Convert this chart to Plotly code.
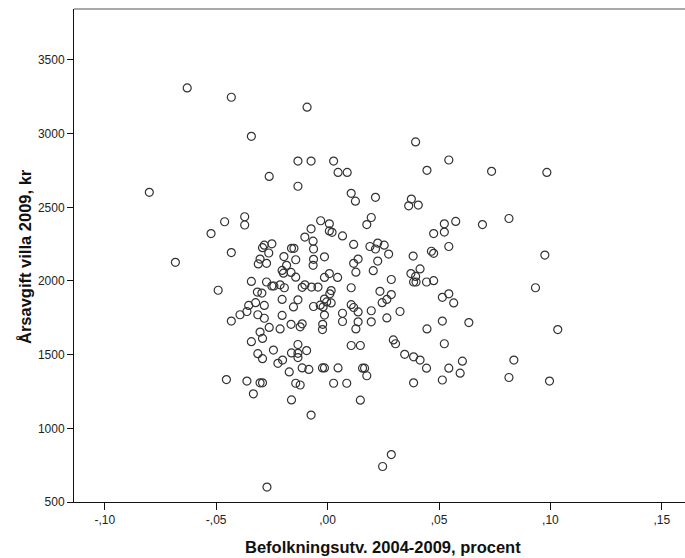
import plotly.graph_objects as go

# Befolkningsutveckling 2004-2009 (andel) per kommun
befolkningsutv = [
    -0.0630, -0.0432, -0.0092, -0.0342, 0.0395, 0.0544, -0.0133, -0.0074, 0.0027, 0.0047,
    0.0088, 0.0446, 0.0736, 0.0984, -0.0262, -0.0133, -0.0800, 0.0106, 0.0125, 0.0215,
    0.0376, 0.0364, 0.0407, -0.0372, -0.0372, -0.0462, -0.0523, -0.0031, -0.0074, 0.0008,
    0.0008, 0.0020, 0.0176, 0.0196, 0.0067, -0.0102, 0.0524, 0.0575, 0.0524, 0.0476,
    0.0695, 0.0814, 0.0544, 0.0466, 0.0476, -0.0284, -0.0292, -0.0250, -0.0264, -0.0432,
    -0.0162, -0.0151, -0.0065, -0.0063, 0.0117, 0.0225, 0.0254, 0.0190, 0.0215, 0.0274,
    0.0384, 0.0975, -0.0683, -0.0303, -0.0311, -0.0274, -0.0196, -0.0184, -0.0143, -0.0063,
    -0.0065, -0.0014, 0.0137, 0.0117, 0.0225, 0.0127, 0.0205, 0.0415, -0.0204, -0.0198,
    -0.0164, -0.0143, 0.0008, -0.0014, 0.0045, 0.0374, 0.0395, 0.0386, 0.0397, 0.0444,
    0.0476, 0.0286, -0.0342, -0.0274, -0.0250, -0.0241, -0.0213, -0.0194, -0.0114, -0.0102,
    -0.0072, -0.0043, -0.0491, -0.0315, -0.0295, 0.0010, 0.0016, 0.0106, 0.0235, 0.0286,
    0.0933, 0.0544, 0.0515, -0.0014, -0.0004, 0.0016, -0.0033, -0.0063, -0.0020, -0.0133,
    -0.0204, -0.0323, -0.0354, -0.0284, -0.0153, 0.0106, 0.0117, 0.0245, 0.0266, 0.0566,
    0.0137, 0.0196, 0.0325, 0.0067, -0.0362, -0.0393, -0.0313, -0.0204, -0.0014, -0.0284,
    -0.0432, 0.0067, 0.0137, 0.0196, 0.0266, 0.0515, 0.0634, -0.0164, -0.0114, -0.0123,
    -0.0022, -0.0262, -0.0213, -0.0023, 0.0127, 0.0446, 0.1033, -0.0303, -0.0292, -0.0342,
    0.0295, 0.0305, 0.0524, -0.0133, 0.0106, 0.0147, -0.0243, -0.0313, -0.0162, -0.0133,
    -0.0094, -0.0133, -0.0292, -0.0223, -0.0202, 0.0346, 0.0386, 0.0415, 0.0605, 0.0836,
    -0.0172, -0.0114, -0.0084, -0.0023, -0.0014, 0.0047, 0.0157, 0.0166, 0.0176, 0.0444,
    0.0544, 0.0595, -0.0454, -0.0362, -0.0303, -0.0292, -0.0143, -0.0123, 0.0027, 0.0086,
    0.0386, 0.0515, 0.0814, 0.0996, -0.0333, -0.0162, 0.0147, -0.0074, 0.0286, 0.0247,
    -0.0272,
]

# Årsavgift villa 2009, kr
arsavgift = [
    3310, 3247, 3180, 2982, 2944, 2821, 2814, 2814, 2814, 2737,
    2737, 2751, 2744, 2737, 2710, 2643, 2602, 2595, 2542, 2568,
    2556, 2510, 2515, 2436, 2380, 2402, 2322, 2409, 2354, 2388,
    2340, 2330, 2383, 2431, 2306, 2298, 2388, 2404, 2332, 2322,
    2383, 2424, 2234, 2202, 2188, 2243, 2226, 2252, 2190, 2193,
    2222, 2222, 2270, 2217, 2248, 2257, 2243, 2234, 2217, 2183,
    2169, 2176, 2127, 2149, 2116, 2120, 2166, 2106, 2144, 2147,
    2106, 2164, 2149, 2120, 2135, 2060, 2070, 2082, 2072, 2053,
    2058, 2026, 2050, 2024, 2024, 2050, 2031, 1993, 1993, 1993,
    2002, 2010, 1997, 1993, 1966, 1966, 1974, 1954, 1957, 1974,
    1959, 1959, 1937, 1925, 1918, 1913, 1935, 1954, 1930, 1908,
    1954, 1913, 1889, 1877, 1858, 1851, 1836, 1827, 1824, 1872,
    1875, 1853, 1834, 1834, 1824, 1839, 1820, 1853, 1875, 1851,
    1790, 1798, 1793, 1781, 1793, 1771, 1771, 1766, 1769, 1747,
    1728, 1725, 1723, 1723, 1749, 1728, 1718, 1706, 1709, 1689,
    1706, 1685, 1675, 1670, 1675, 1675, 1670, 1653, 1610, 1588,
    1600, 1574, 1574, 1569, 1562, 1562, 1531, 1507, 1512, 1509,
    1528, 1480, 1473, 1441, 1463, 1502, 1485, 1463, 1456, 1463,
    1383, 1410, 1400, 1410, 1410, 1410, 1408, 1408, 1357, 1408,
    1408, 1374, 1331, 1321, 1309, 1309, 1306, 1294, 1306, 1306,
    1309, 1328, 1345, 1321, 1234, 1193, 1191, 1090, 822, 741,
    601,
]

x_tickvals = [-0.10, -0.05, 0.00, 0.05, 0.10, 0.15]
x_ticktext = ["-,10", "-,05", ",00", ",05", ",10", ",15"]
y_tickvals = [500, 1000, 1500, 2000, 2500, 3000, 3500]
y_ticktext = ["500", "1000", "1500", "2000", "2500", "3000", "3500"]

x_title = "Befolkningsutv. 2004-2009, procent"
y_title = "Årsavgift villa 2009, kr"

fig = go.Figure(
    go.Scatter(
        x=befolkningsutv,
        y=arsavgift,
        mode="markers",
        marker=dict(
            symbol="circle-open",
            size=8,
            color="#333333",
            line=dict(width=1.2, color="#333333"),
        ),
        showlegend=False,
        cliponaxis=False,
        hoverinfo="skip",
    )
)

tick_font = dict(family="Liberation Sans, Arial, sans-serif", size=12, color="#222222")
title_font = dict(family="Liberation Sans, Arial, sans-serif", size=16.5, color="#111111")

PLOT_L, PLOT_T, PLOT_B = 74, 9, 502

fig.update_layout(
    width=685,
    height=558,
    margin=dict(l=PLOT_L, r=0, t=PLOT_T, b=558 - PLOT_B, autoexpand=False),
    paper_bgcolor="white",
    plot_bgcolor="white",
    hovermode=False,
    xaxis=dict(
        range=[-0.1138, 0.1604],
        tickvals=x_tickvals,
        ticktext=x_ticktext,
        tickfont=tick_font,
        ticks="outside",
        ticklen=7,
        tickcolor="#111111",
        showline=True,
        linecolor="#111111",
        linewidth=1,
        showgrid=False,
        zeroline=False,
        automargin=False,
    ),
    yaxis=dict(
        range=[500, 3846],
        tickvals=y_tickvals,
        ticktext=y_ticktext,
        tickfont=tick_font,
        ticks="outside",
        ticklen=6,
        tickcolor="#111111",
        showline=True,
        linecolor="#111111",
        linewidth=1,
        showgrid=False,
        zeroline=False,
        automargin=False,
    ),
    shapes=[
        dict(type="line", xref="paper", yref="paper", x0=0, x1=1, y0=1, y1=1,
             line=dict(color="#8c8c8c", width=1.6)),
    ],
    annotations=[
        dict(text="<b>" + x_title + "</b>", xref="paper", yref="paper",
             x=(383 - PLOT_L) / (685 - PLOT_L), y=0, xanchor="center", yanchor="middle",
             yshift=-(547 - PLOT_B), showarrow=False, font=title_font),
        dict(text="<b>" + y_title + "</b>", xref="paper", yref="paper",
             x=0, y=(PLOT_B - 257) / (PLOT_B - PLOT_T), xanchor="center", yanchor="middle",
             xshift=-(PLOT_L - 25), textangle=-90, showarrow=False, font=title_font),
    ],
)

fig.write_html(
    "out.html",
    config={"displayModeBar": False, "staticPlot": True},
    post_script="document.body.style.margin='0';document.body.style.overflow='hidden';",
)
